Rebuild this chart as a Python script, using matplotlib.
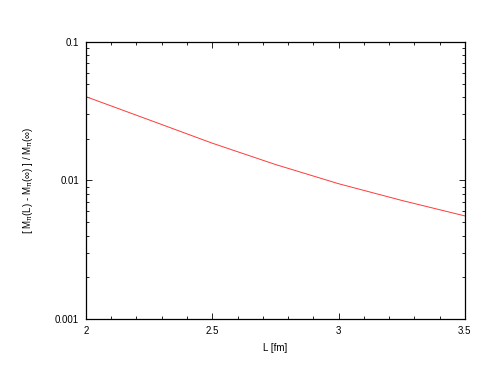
import matplotlib
matplotlib.use('Agg')
import matplotlib.pyplot as plt
from matplotlib.ticker import FixedLocator, FixedFormatter, MultipleLocator, LogLocator, NullFormatter

plt.rcParams['font.family'] = ['Liberation Sans', 'DejaVu Sans']
plt.rcParams['mathtext.fontset'] = 'custom'
plt.rcParams['mathtext.rm'] = 'Liberation Sans'
plt.rcParams['mathtext.it'] = 'Liberation Sans'

# values
L_fm = [2.0, 2.25, 2.5, 2.75, 3.0, 3.25, 3.5]
rel_shift = [0.0403, 0.0274, 0.0186, 0.01305, 0.00948, 0.00718, 0.00555]
y_ticks = [0.001, 0.01, 0.1]
y_tick_labels = ['0.001', '0.01', '0.1']
x_ticks = [2, 2.5, 3, 3.5]
x_tick_labels = ['2', '2.5', '3', '3.5']

fig = plt.figure(figsize=(4.94, 3.82), dpi=100)
ax = fig.add_axes([0.174, 0.165, 0.767, 0.725])

ax.plot(L_fm, rel_shift, color='#ff3a3a', linewidth=0.7)

ax.set_yscale('log')
ax.set_xlim(2, 3.5)
ax.set_ylim(0.001, 0.1)

ax.xaxis.set_major_locator(FixedLocator(x_ticks))
ax.xaxis.set_major_formatter(FixedFormatter(x_tick_labels))
ax.xaxis.set_minor_locator(MultipleLocator(0.1))
ax.yaxis.set_major_locator(FixedLocator(y_ticks))
ax.yaxis.set_major_formatter(FixedFormatter(y_tick_labels))
ax.yaxis.set_minor_locator(LogLocator(base=10, subs=range(2, 10)))
ax.yaxis.set_minor_formatter(NullFormatter())

ax.tick_params(which='both', direction='in', top=True, right=True, labelsize=7, pad=5)
ax.tick_params(which='major', length=4, width=0.6)
ax.tick_params(which='minor', length=2.5, width=0.6)
for s in ax.spines.values():
    s.set_linewidth(0.9)

ax.set_xlabel('L [fm]', fontsize=7, labelpad=5)
ax.set_ylabel(r'[ M$_\pi$(L) - M$_\pi$($\infty$) ] / M$_\pi$($\infty$)', fontsize=7, labelpad=14)

plt.savefig('out.png', dpi=100)
